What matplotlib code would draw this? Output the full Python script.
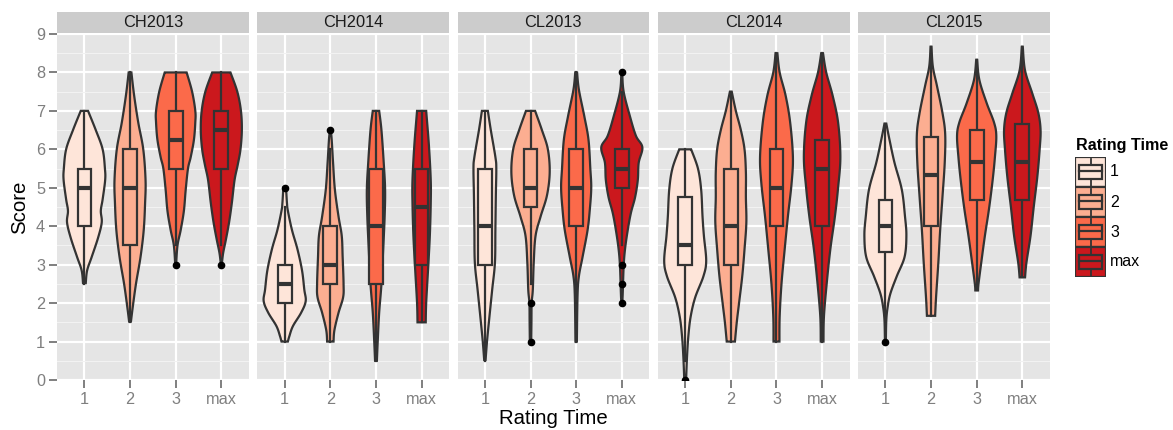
import numpy as np
import matplotlib
matplotlib.use("Agg")
import matplotlib.pyplot as plt
from matplotlib.patches import Rectangle, Polygon

plt.rcParams["font.family"] = ["Liberation Sans", "DejaVu Sans"]

facets = ["CH2013", "CH2014", "CL2013", "CL2014", "CL2015"]
times = ["1", "2", "3", "max"]
fills = ["#FEE5D9", "#FCAE91", "#FB6A4A", "#CB181D"]

# violin outlines, (score, half width) from top to bottom
ch2013_shape = [
    [(7.0, 0.08), (6.5, 0.25), (6.0, 0.40), (5.5, 0.45), (5.2, 0.455), (4.7, 0.40),
     (4.4, 0.36), (4.1, 0.38), (3.7, 0.30), (3.2, 0.16), (2.85, 0.06), (2.52, 0.03)],
    [(8.0, 0.03), (7.4, 0.09), (6.7, 0.18), (6.0, 0.29), (5.2, 0.34), (4.6, 0.33),
     (3.9, 0.30), (3.2, 0.23), (2.5, 0.13), (1.9, 0.06), (1.52, 0.02)],
    [(8.0, 0.24), (7.5, 0.36), (7.0, 0.43), (6.7, 0.43), (6.25, 0.40), (5.8, 0.33),
     (5.5, 0.27), (4.95, 0.22), (4.4, 0.18), (3.9, 0.11), (3.5, 0.04), (3.0, 0.01)],
    [(8.0, 0.20), (7.5, 0.35), (7.0, 0.43), (6.5, 0.45), (6.0, 0.42), (5.6, 0.36),
     (5.2, 0.29), (4.6, 0.23), (4.1, 0.17), (3.65, 0.10), (3.3, 0.04), (3.0, 0.01)],
]
ch2014_shape = [
    [(5.0, 0.03), (4.6, 0.05), (4.4, 0.07), (3.9, 0.16), (3.4, 0.28), (2.85, 0.38),
     (2.35, 0.43), (2.05, 0.46), (1.75, 0.36), (1.4, 0.18), (1.13, 0.10), (1.0, 0.07)],
    [(6.5, 0.01), (6.25, 0.03), (5.65, 0.06), (4.95, 0.10), (4.25, 0.18), (3.75, 0.25),
     (3.2, 0.27), (2.5, 0.29), (2.15, 0.28), (1.75, 0.18), (1.3, 0.09), (1.0, 0.07)],
    [(7.0, 0.07), (6.5, 0.12), (5.65, 0.17), (4.95, 0.20), (4.25, 0.19), (3.45, 0.16),
     (2.5, 0.12), (1.75, 0.07), (1.05, 0.04), (0.5, 0.02)],
    [(7.0, 0.10), (6.1, 0.16), (5.2, 0.20), (4.6, 0.20), (3.75, 0.18), (2.85, 0.14),
     (2.0, 0.10), (1.5, 0.09)],
]
cl2013_shape = [
    [(7.0, 0.065), (6.5, 0.13), (5.8, 0.23), (5.5, 0.25), (4.8, 0.24), (3.9, 0.23),
     (3.05, 0.22), (2.35, 0.16), (1.65, 0.10), (1.05, 0.05), (0.52, 0.015)],
    [(7.0, 0.10), (6.5, 0.25), (6.0, 0.38), (5.4, 0.42), (4.8, 0.36), (4.25, 0.22),
     (3.75, 0.11), (3.05, 0.07), (2.35, 0.05), (2.0, 0.025), (1.5, 0.02), (1.0, 0.015)],
    [(8.0, 0.02), (7.55, 0.06), (6.85, 0.18), (6.25, 0.27), (5.5, 0.31), (5.0, 0.33),
     (4.45, 0.30), (3.9, 0.25), (3.2, 0.14), (2.7, 0.06), (2.2, 0.03), (1.0, 0.015)],
    [(8.0, 0.01), (7.5, 0.04), (6.85, 0.18), (6.35, 0.31), (6.05, 0.45), (5.65, 0.37),
     (5.2, 0.35), (4.75, 0.29), (4.35, 0.20), (3.9, 0.13), (3.4, 0.07), (2.95, 0.04),
     (2.25, 0.02), (2.0, 0.01)],
]
cl2014_shape = [
    [(6.0, 0.13), (5.5, 0.28), (4.95, 0.35), (4.25, 0.38), (3.75, 0.41), (3.1, 0.46),
     (2.7, 0.40), (2.15, 0.22), (1.65, 0.12), (1.15, 0.07), (0.6, 0.04), (0.0, 0.02)],
    [(7.5, 0.02), (7.0, 0.11), (6.5, 0.22), (6.0, 0.30), (5.4, 0.33), (4.75, 0.33),
     (4.1, 0.34), (3.4, 0.30), (2.7, 0.25), (2.0, 0.18), (1.5, 0.13), (1.0, 0.09)],
    [(8.5, 0.02), (8.0, 0.07), (7.4, 0.20), (6.7, 0.30), (5.8, 0.36), (5.1, 0.33),
     (4.25, 0.25), (3.4, 0.18), (2.5, 0.11), (1.65, 0.07), (1.0, 0.065)],
    [(8.5, 0.02), (8.0, 0.09), (7.4, 0.23), (6.7, 0.35), (5.8, 0.40), (5.0, 0.35),
     (4.25, 0.28), (3.4, 0.18), (2.5, 0.10), (1.65, 0.04), (1.0, 0.03)],
]
cl2015_shape = [
    [(6.67, 0.02), (6.25, 0.09), (5.65, 0.20), (4.95, 0.36), (4.25, 0.43), (3.75, 0.46),
     (3.2, 0.42), (2.7, 0.25), (2.25, 0.11), (1.9, 0.05), (1.55, 0.02), (1.0, 0.01)],
    [(8.67, 0.01), (8.15, 0.04), (7.65, 0.13), (6.95, 0.25), (6.4, 0.31), (5.65, 0.30),
     (4.75, 0.25), (3.9, 0.20), (3.05, 0.16), (2.15, 0.11), (1.67, 0.09)],
    [(8.33, 0.01), (7.8, 0.06), (7.2, 0.22), (6.7, 0.38), (6.35, 0.43), (5.8, 0.40),
     (5.2, 0.35), (4.45, 0.27), (3.75, 0.18), (3.05, 0.10), (2.5, 0.04), (2.33, 0.03)],
    [(8.67, 0.01), (8.05, 0.06), (7.45, 0.22), (6.95, 0.35), (6.5, 0.40), (6.0, 0.38),
     (5.3, 0.33), (4.5, 0.25), (3.75, 0.18), (3.05, 0.09), (2.67, 0.06)],
]

# box stats: (lower whisker, q1, median, q3, upper whisker)
ch2013_box = [(2.5, 4, 5, 5.5, 7), (1.5, 3.5, 5, 6, 8), (3.5, 5.5, 6.25, 7, 8), (3.5, 5.5, 6.5, 7, 8)]
ch2014_box = [(1, 2, 2.5, 3, 4.5), (1, 2.5, 3, 4, 6), (0.5, 2.5, 4, 5.5, 7), (1.5, 3, 4.5, 5.5, 7)]
cl2013_box = [(0.5, 3, 4, 5.5, 7), (2.5, 4.5, 5, 6, 7), (1, 4, 5, 6, 8), (3.5, 5, 5.5, 6, 7.5)]
cl2014_box = [(0.5, 3, 3.5, 4.75, 6), (1, 3, 4, 5.5, 7.5), (1, 4, 5, 6, 8.5), (1, 4, 5.5, 6.25, 8.5)]
cl2015_box = [(1.67, 3.33, 4, 4.67, 6.67), (1.67, 4, 5.33, 6.33, 8.67),
              (2.33, 4.67, 5.67, 6.5, 8.33), (2.67, 4.67, 5.67, 6.67, 8.67)]

ch2013_out = [[], [], [3], [3]]
ch2014_out = [[5], [6.5], [], []]
cl2013_out = [[], [2, 1], [], [8, 3, 2.5, 2]]
cl2014_out = [[0], [], [], []]
cl2015_out = [[1], [], [], []]

shapes = [ch2013_shape, ch2014_shape, cl2013_shape, cl2014_shape, cl2015_shape]
boxes = [ch2013_box, ch2014_box, cl2013_box, cl2014_box, cl2015_box]
outliers = [ch2013_out, ch2014_out, cl2013_out, cl2014_out, cl2015_out]

EDGE = "#333333"
LW = 1.6
W, H = 1173, 430


def smooth(points, n=14):
    # Catmull-Rom pass through the outline points
    p = np.asarray(points, float)
    p = np.vstack([p[0], p, p[-1]])
    t = np.linspace(0, 1, n, endpoint=False)[:, None]
    segs = []
    for i in range(1, len(p) - 2):
        p0, p1, p2, p3 = p[i - 1], p[i], p[i + 1], p[i + 2]
        segs.append(0.5 * (2 * p1 + (p2 - p0) * t
                           + (2 * p0 - 5 * p1 + 4 * p2 - p3) * t ** 2
                           + (3 * p1 - p0 - 3 * p2 + p3) * t ** 3))
    segs.append(p[-2][None])
    return np.vstack(segs)


def px_axes(fig, left, top, right, bottom):
    return fig.add_axes([left / W, 1 - bottom / H, (right - left) / W, (bottom - top) / H])


fig = plt.figure(figsize=(W / 100, H / 100), dpi=100)

lefts = [57, 257.3, 457.5, 657.8, 858]
pw = 191.7
for k, name in enumerate(facets):
    ax = px_axes(fig, lefts[k], 34, lefts[k] + pw, 380)
    ax.set_facecolor("#E5E5E5")
    ax.set_xlim(0.4, 4.6)
    ax.set_ylim(0, 9)
    for s in ax.spines.values():
        s.set_visible(False)
    ax.set_yticks(range(10))
    ax.set_yticks(np.arange(0.5, 9, 1), minor=True)
    ax.set_xticks(range(1, 5))
    ax.set_xticklabels(times)
    ax.grid(True, which="major", color="white", lw=1.6)
    ax.grid(True, which="minor", axis="y", color="#F2F2F2", lw=0.8)
    ax.set_axisbelow(True)
    ax.tick_params(which="minor", length=0)
    ax.tick_params(which="major", length=5.5, width=1.4, color="#7F7F7F",
                   labelcolor="#7F7F7F", labelsize=11.7, pad=3)
    if k > 0:
        ax.tick_params(axis="y", left=False, labelleft=False)

    for j in range(4):
        c = j + 1
        curve = smooth(shapes[k][j])
        ys = curve[:, 0]
        ws = np.clip(curve[:, 1], 0.004, None)
        xy = np.concatenate([np.column_stack([c + ws, ys]),
                             np.column_stack([c - ws[::-1], ys[::-1]])])
        ax.add_patch(Polygon(xy, closed=True, facecolor=fills[j], edgecolor=EDGE,
                             lw=LW, zorder=2))
        lo, q1, med, q3, hi = boxes[k][j]
        ax.plot([c, c], [lo, q1], color=EDGE, lw=LW, zorder=3)
        ax.plot([c, c], [q3, hi], color=EDGE, lw=LW, zorder=3)
        ax.add_patch(Rectangle((c - 0.15, q1), 0.3, q3 - q1, facecolor=fills[j],
                               edgecolor=EDGE, lw=LW, zorder=4))
        ax.plot([c - 0.15, c + 0.15], [med, med], color=EDGE, lw=3.0,
                solid_capstyle="butt", zorder=5)
        for v in outliers[k][j]:
            ax.plot(c, v, "o", color="black", ms=4.5, zorder=6)

    strip = px_axes(fig, lefts[k], 12.3, lefts[k] + pw, 33.3)
    strip.set_facecolor("#CCCCCC")
    strip.set_xticks([])
    strip.set_yticks([])
    for s in strip.spines.values():
        s.set_visible(False)
    strip.text(0.5, 0.5, name, ha="center", va="center", fontsize=11.8,
               color="#1A1A1A", transform=strip.transAxes)

fig.text(20 / W, 1 - 207 / H, "Score", rotation=90, ha="center", va="center", fontsize=14.7)
fig.text(553.5 / W, 1 - 418 / H, "Rating Time", ha="center", va="center", fontsize=14.7)

# legend
fig.text(1076 / W, 1 - 150 / H, "Rating Time", ha="left", va="baseline",
         fontsize=11.6, fontweight="bold")
lg = px_axes(fig, 1075, 157, 1106, 277)
lg.set_xlim(0, 1)
lg.set_ylim(4, 0)
lg.axis("off")
for j, lab in enumerate(times):
    lg.add_patch(Rectangle((0, j), 1, 1, facecolor=fills[j], edgecolor=EDGE, lw=LW))
    lg.plot([0.5, 0.5], [j + 0.05, j + 0.25], color=EDGE, lw=1.3)
    lg.plot([0.5, 0.5], [j + 0.72, j + 0.95], color=EDGE, lw=1.3)
    lg.add_patch(Rectangle((0.13, j + 0.25), 0.74, 0.47, facecolor=fills[j],
                           edgecolor=EDGE, lw=LW))
    lg.plot([0.13, 0.87], [j + 0.48, j + 0.48], color=EDGE, lw=LW)
    fig.text(1110 / W, 1 - (157 + 30 * j + 15) / H, lab, ha="left", va="center",
             fontsize=11.5)

fig.savefig("out.png", dpi=100)
